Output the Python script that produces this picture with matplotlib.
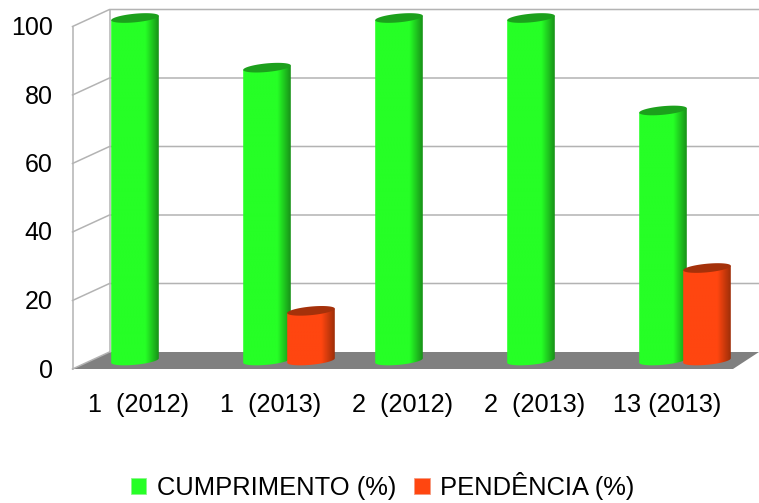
import numpy as np
import matplotlib
matplotlib.use('Agg')
import matplotlib.pyplot as plt
from matplotlib.colors import LinearSegmentedColormap
from matplotlib.patches import Patch, PathPatch, Polygon
from matplotlib.path import Path

categories = ['1  (2012)', '1  (2013)', '2  (2012)', '2  (2013)', '13 (2013)']
cumprimento = [100, 85.5, 100, 100, 73]
pendencia = [0, 14.5, 0, 0, 27]
y_ticks = [0, 20, 40, 60, 80, 100]
series_names = ['CUMPRIMENTO (%)', 'PENDÊNCIA (%)']

plt.rcParams['font.family'] = ['Liberation Sans', 'DejaVu Sans']

GREEN = '#26ff26'
RED = '#ff4610'
GRID = '#b3b3b3'

# pixel scale of the picture: 132 px per category, 3.425 px per percent
PX_X = 132.0
PX_Y = 3.425
X0 = 157.0
Y0 = 360.5

BAR_OFF = 22 / PX_X
BAR_A = 23.8 / PX_X
ELL_B = 4.3 / PX_Y
ELL_K = 2.2 / PX_Y

LEFT_FRONT = (72.5 - X0) / PX_X
LEFT_BACK = (109.5 - X0) / PX_X
RIGHT_FRONT = (733 - X0) / PX_X
RIGHT_BACK = (759 - X0) / PX_X
DEPTH = 8.5 / PX_Y

fig = plt.figure(figsize=(7.59, 5.03), dpi=100)
ax = fig.add_axes([0, 0, 1, 1])
ax.set_xlim(-X0 / PX_X, (759 - X0) / PX_X)
ax.set_ylim((Y0 - 503) / PX_Y, Y0 / PX_Y)
ax.axis('off')


def shade_map(base, dark):
    return LinearSegmentedColormap.from_list('s', [
        (0.0, base), (0.72, base), (1.0, dark)])


def cylinder(cx, value, base, mid, dark, z):
    t = np.linspace(0, np.pi, 60)
    # lower arc at the foot, then back along the upper arc of the top
    xs_low = cx - BAR_A * np.cos(t)
    ys_low = -ELL_B * np.sin(t) - ELL_K * np.cos(t)
    xs_top = cx + BAR_A * np.cos(t)
    ys_top = value + ELL_K * np.cos(t)
    verts = np.column_stack([np.r_[xs_low, xs_top], np.r_[ys_low, ys_top]])
    body = PathPatch(Path(np.vstack([verts, verts[0]]), closed=True), fc='none', ec='none', zorder=z)
    ax.add_patch(body)
    grad = np.linspace(0, 1, 256).reshape(1, -1)
    im = ax.imshow(grad, cmap=shade_map(base, mid), aspect='auto', zorder=z,
                   extent=[cx - BAR_A, cx + BAR_A, -ELL_B - 1, value + ELL_B + 1])
    im.set_clip_path(body)
    t2 = np.linspace(0, 2 * np.pi, 120)
    cap = np.column_stack([cx + BAR_A * np.cos(t2),
                           value + ELL_B * np.sin(t2) + ELL_K * np.cos(t2)])
    ax.add_patch(Polygon(cap, closed=True, fc=dark, ec='none', zorder=z + 0.1))


# floor
ax.add_patch(Polygon([(LEFT_FRONT, -DEPTH), (RIGHT_FRONT, -DEPTH),
                      (RIGHT_BACK, DEPTH), (LEFT_BACK, DEPTH)],
                     closed=True, fc='#808080', ec='none', zorder=1))

# walls and gridlines
for v in y_ticks:
    if v > 0:
        ax.plot([LEFT_FRONT, LEFT_BACK, RIGHT_BACK], [v - DEPTH, v + DEPTH, v + DEPTH],
                color=GRID, lw=1.1, zorder=2)
    ax.text(-0.79, v - DEPTH - 1.5 / PX_Y, str(v), ha='right', va='center', fontsize=18, color='black')
ax.plot([LEFT_FRONT, LEFT_FRONT], [-DEPTH, 100 - DEPTH], color=GRID, lw=1.1, zorder=2)
ax.plot([LEFT_BACK, LEFT_BACK], [DEPTH, 100 + DEPTH], color=GRID, lw=1.1, zorder=2)
ax.plot([LEFT_FRONT, LEFT_BACK], [-DEPTH, DEPTH], color=GRID, lw=1.1, zorder=2)

# bars
for i, name in enumerate(categories):
    cylinder(i - BAR_OFF, cumprimento[i], GREEN, '#189018', '#1ca01c', 3 + i)
    if pendencia[i] > 0:
        cylinder(i + BAR_OFF, pendencia[i], RED, '#9c2e08', '#a5310a', 3.5 + i)
    ax.text(i - 18 / PX_X, (Y0 - 405) / PX_Y, name, ha='center', va='center', fontsize=18.2)

handles = [Patch(fc=GREEN, ec='#8cf58c', lw=0.6), Patch(fc=RED, ec='#f59a80', lw=0.6)]
fig.legend(handles, series_names, loc='center', bbox_to_anchor=(382.5 / 759, 1 - 486 / 503),
           ncol=2, frameon=False, fontsize=18.4, handlelength=0.62, handleheight=0.62,
           handletextpad=0.4, columnspacing=0.7, borderpad=0, borderaxespad=0)

fig.savefig('out.png', dpi=100)
